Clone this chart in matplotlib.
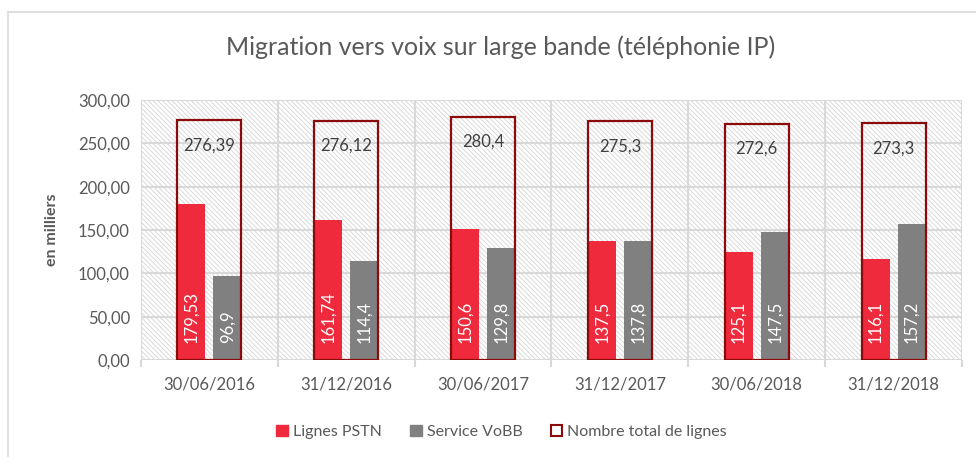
import numpy as np
import matplotlib
matplotlib.use('Agg')
import matplotlib.pyplot as plt
from matplotlib.patches import Rectangle, Patch

plt.rcParams['font.family'] = ['Lato', 'DejaVu Sans']
plt.rcParams['hatch.linewidth'] = 0.6

dates = ['30/06/2016', '31/12/2016', '30/06/2017', '31/12/2017', '30/06/2018', '31/12/2018']
pstn = [179.53, 161.74, 150.6, 137.5, 125.1, 116.1]
vobb = [96.9, 114.4, 129.8, 137.8, 147.5, 157.2]
total = [276.39, 276.12, 280.4, 275.3, 272.6, 273.3]
pstn_lbl = ['179,53', '161,74', '150,6', '137,5', '125,1', '116,1']
vobb_lbl = ['96,9', '114,4', '129,8', '137,8', '147,5', '157,2']
total_lbl = ['276,39', '276,12', '280,4', '275,3', '272,6', '273,3']

red = '#ee2a3c'
grey = '#808080'
dark = '#8b0a0a'
txt = '#595959'
grid = '#d9d9d9'

fig = plt.figure(figsize=(9.76, 4.57), dpi=100)
ax = fig.add_axes([141 / 976, 1 - 360 / 457, 821 / 976, 260 / 457])

# chart frame
fig.patches.append(Rectangle((8 / 976, -0.1), 2, 1.1 - 12 / 457, transform=fig.transFigure,
                             fill=False, edgecolor='#d9d9d9', lw=1.2))

# hatched plot background
ax.add_patch(Rectangle((0, 0), 1, 1, transform=ax.transAxes, facecolor='white',
                       edgecolor='#d4d4d4', hatch='\\' * 7, lw=0, zorder=0))

x = np.arange(len(dates))
w = 0.205
ax.bar(x - 0.132, pstn, w, color=red, zorder=3)
ax.bar(x + 0.132, vobb, w, color=grey, zorder=3)
ax.bar(x, total, 0.468, facecolor='none', edgecolor=dark, lw=1.6, zorder=4)

for i in range(len(dates)):
    ax.text(x[i] - 0.132, 20, pstn_lbl[i], rotation=90, ha='center', va='bottom',
            color='white', fontsize=12, zorder=5)
    ax.text(x[i] + 0.132, 20, vobb_lbl[i], rotation=90, ha='center', va='bottom',
            color='white', fontsize=12, zorder=5)
    ax.text(x[i], total[i] - 29, total_lbl[i], ha='center', va='center',
            color='#404040', fontsize=12, zorder=5)

ax.set_xlim(-0.5, 5.5)
ax.set_ylim(0, 300)
ax.set_yticks(np.arange(0, 301, 50))
ax.set_yticklabels([('%.2f' % v).replace('.', ',') for v in np.arange(0, 301, 50)])
ax.set_xticks(x)
ax.set_xticklabels(dates)
ax.set_xticks(np.arange(-0.5, 6, 1), minor=True)
ax.tick_params(axis='both', which='major', length=0, labelsize=12, colors=txt, pad=8)
ax.tick_params(axis='x', which='major', pad=12)
ax.tick_params(axis='x', which='minor', length=5, color=grid, width=1.5)
ax.grid(axis='y', color=grid, lw=1.5, zorder=1)
ax.grid(axis='x', which='minor', color=grid, lw=1.5, zorder=1)
ax.set_axisbelow(True)
for s in ax.spines.values():
    s.set_visible(False)

ax.set_ylabel('en milliers', fontsize=11.5, fontweight='bold', color=txt, labelpad=14)
fig.text(0.513, 0.897, 'Migration vers voix sur large bande (téléphonie IP)', ha='center',
         va='center', fontsize=18, color=txt)

handles = [Patch(facecolor=red, edgecolor=red),
           Patch(facecolor=grey, edgecolor=grey),
           Patch(facecolor='white', edgecolor=dark, lw=1.5)]
fig.legend(handles, ['Lignes PSTN', 'Service VoBB', 'Nombre total de lignes'],
           loc='center', bbox_to_anchor=(0.514, 0.055), ncol=3, frameon=False,
           fontsize=11.5, labelcolor=txt, handlelength=0.75, handleheight=0.75,
           handletextpad=0.3, columnspacing=1.75)

fig.savefig('out.png', dpi=100)
